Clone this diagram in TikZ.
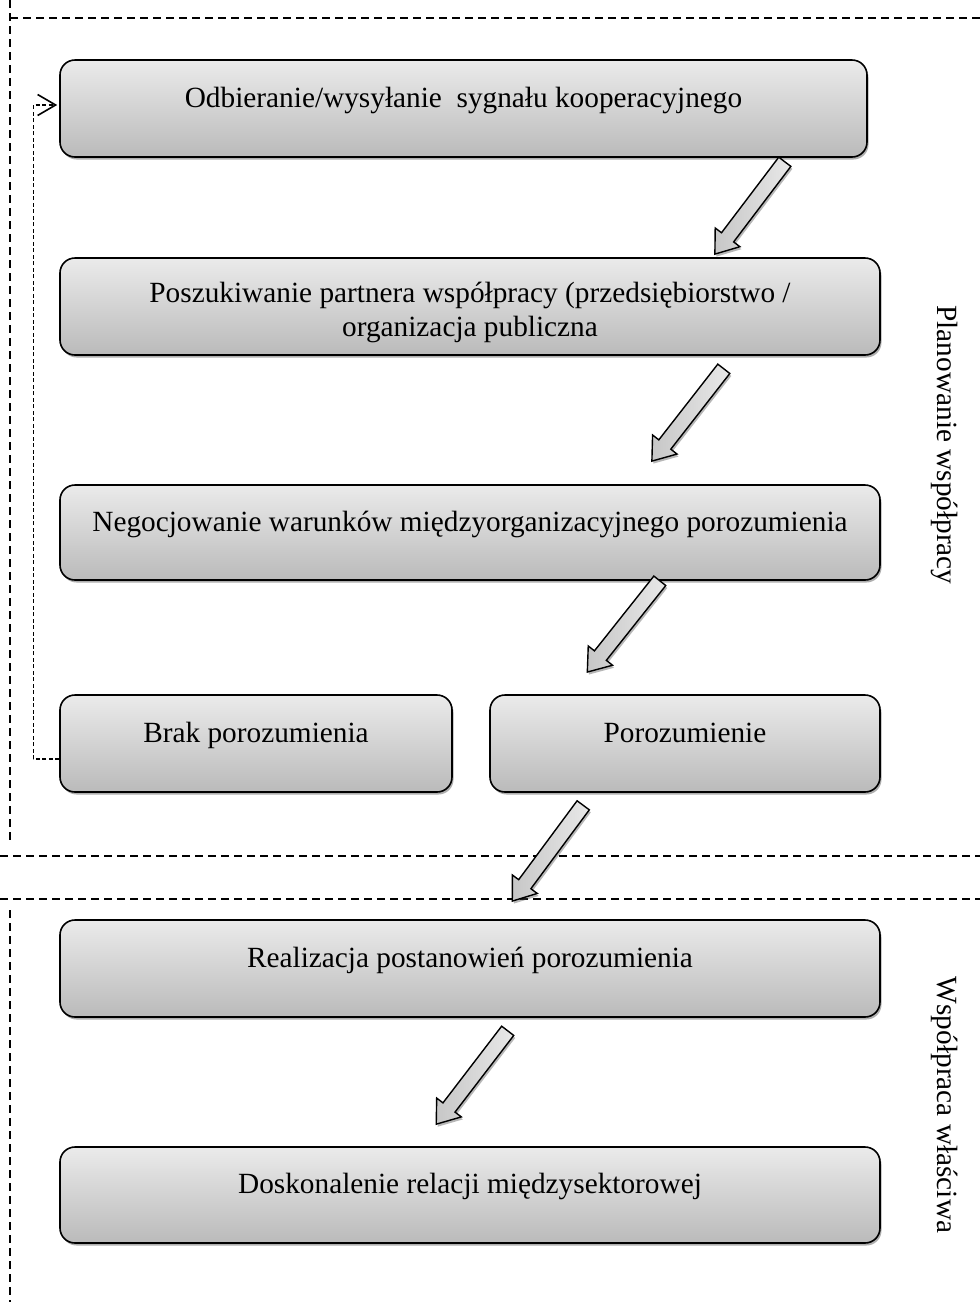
\documentclass[tikz,border=0pt]{standalone}
\usepackage{fontspec}
\setmainfont{Liberation Serif}
\usetikzlibrary{calc,shadows,arrows.meta}

\tikzset{
  procbox/.style={draw=black, line width=1.6pt, rounded corners=15pt,
    top color=black!8, bottom color=black!27, minimum height=97pt,
    inner sep=0pt, text height=18pt, text depth=21pt,
    font=\fontsize{29.3}{34}\selectfont,
    drop shadow={shadow xshift=1.5pt, shadow yshift=-2.5pt, opacity=0.45, fill=black!70}},
  frameline/.style={line width=1.5pt, dash pattern=on 7.5pt off 5.5pt},
  feedback/.style={line width=1.2pt, dash pattern=on 4pt off 2.5pt,
    -{Straight Barb[length=18pt,width=21pt,line width=1.6pt]}, shorten >=2pt},
  blockarrow/.style={draw=black, line width=1.4pt, line join=miter,
    left color=black!22, right color=black!9,
    drop shadow={shadow xshift=1.5pt, shadow yshift=-2.5pt, opacity=0.4, fill=black!70}},
  sidelabel/.style={font=\fontsize{29.3}{34}\selectfont, inner sep=0pt,
    anchor=base, rotate=-90},
}

\newcommand\blockarr[2]{%
  \path let \p1=($(#2)-(#1)$) in \pgfextra{%
    \pgfmathsetmacro\baang{atan2(\y1,\x1)}%
    \pgfmathsetmacro\balen{veclen(\x1,\y1)}%
    \global\let\baA\baang\global\let\baL\balen};
  \begin{scope}[shift={(#1)},rotate=\baA]
    \draw[blockarrow] (0,7.6) -- ({\baL-21},7.6) -- ({\baL-21},15.5) -- (\baL,0)
      -- ({\baL-21},-15.5) -- ({\baL-21},-7.6) -- (0,-7.6) -- cycle;
  \end{scope}}

\begin{document}
\begin{tikzpicture}[x=1pt,y=1pt]
\fill[white] (0,0) rectangle (980,-1302);
\useasboundingbox (0,0) rectangle (980,-1302);

% frame lines
\draw[frameline] (10,0) -- (10,-842);
\draw[frameline] (10,-18) -- (980,-18);
\draw[frameline] (0,-856) -- (980,-856);
\draw[frameline] (0,-899) -- (980,-899);
\draw[frameline] (10,-910) -- (10,-1302);

% boxes
\node[procbox, minimum width=807pt] (b1) at (463.5,-108.5) {Odbieranie/wysyłanie~ sygnału kooperacyjnego};
\node[procbox, minimum width=820pt, text depth=27pt] (b2) at (470,-306.5)
  {\begin{tabular}[t]{@{}c@{}}Poszukiwanie partnera współpracy (przedsiębiorstwo /\\organizacja publiczna\end{tabular}};
\node[procbox, minimum width=820pt, minimum height=95pt] (b3) at (470,-532.5) {Negocjowanie warunków międzyorganizacyjnego porozumienia};
\node[procbox, minimum width=392pt] (b4) at (256,-743.5) {Brak porozumienia};
\node[procbox, minimum width=390pt] (b5) at (685,-743.5) {Porozumienie};
\node[procbox, minimum width=820pt] (b6) at (470,-968.5) {Realizacja postanowień porozumienia};
\node[procbox, minimum width=820pt, minimum height=96pt] (b7) at (470,-1195) {Doskonalenie relacji międzysektorowej};

% side labels
\node[sidelabel] (lab1) at (937,-445) {Planowanie współpracy};
\node[sidelabel] (lab2) at (937,-1105) {Współpraca właściwa};

% feedback connector
\draw[feedback] ([yshift=-15.5pt]b4.west) -- ++(-26,0) |- ([yshift=3.5pt]b1.west);

% block arrow end points
\coordinate (a1s) at ($(b1.south east)+(-83,-4)$);
\coordinate (a1e) at ($(b2.north east)+(-166,3)$);
\coordinate (a2s) at ($(b2.south east)+(-157,-13)$);
\coordinate (a2e) at ($(b3.north east)+(-229,23)$);
\coordinate (a3s) at ($(b3.south east)+(-221,0)$);
\coordinate (a3e) at ($(b5.north west)+(98,22)$);
\coordinate (a4s) at ($(b5.south west)+(94,-12.5)$);
\coordinate (a4e) at ($(b6.north west)+(453,18)$);
\coordinate (a5s) at ($(b6.south west)+(448.5,-13)$);
\coordinate (a5e) at ($(b7.north west)+(377,22)$);

\blockarr{a1s}{a1e}
\blockarr{a2s}{a2e}
\blockarr{a3s}{a3e}
\blockarr{a4s}{a4e}
\blockarr{a5s}{a5e}
\end{tikzpicture}
\end{document}
